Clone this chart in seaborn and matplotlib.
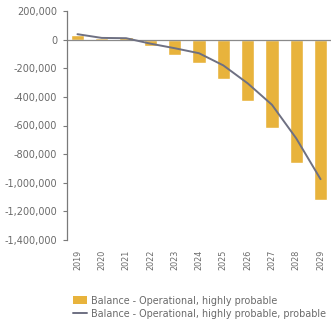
import matplotlib
matplotlib.use("Agg")
import matplotlib.pyplot as plt
from matplotlib.ticker import FuncFormatter
from matplotlib.patches import Patch
from matplotlib.lines import Line2D
import pandas as pd
import seaborn as sns

years = [2019, 2020, 2021, 2022, 2023, 2024, 2025, 2026, 2027, 2028, 2029]
balance_highly_probable = [30000, 8000, 15000, -45000, -105000, -160000,
                           -275000, -427000, -620000, -865000, -1120000]
balance_probable = [38000, 12000, 10000, -28000, -60000, -95000,
                    -180000, -305000, -455000, -690000, -975000]
y_ticks = [200000, 0, -200000, -400000, -600000, -800000,
           -1000000, -1200000, -1400000]

bar_label = "Balance - Operational, highly probable"
line_label = "Balance - Operational, highly probable, probable"

bar_color = "#E8B33C"
line_color = "#6E7082"
text_color = "#6a6a6a"

sns.set_style("white")
plt.rcParams["font.family"] = ["DejaVu Sans"]

df = pd.DataFrame({"year": years,
                   "hp": balance_highly_probable,
                   "p": balance_probable})

fig = plt.figure(figsize=(3.31, 3.28), dpi=100)
ax = fig.add_axes([67 / 331, 88 / 328, 264 / 331, 229 / 328])

sns.barplot(data=df, x="year", y="hp", native_scale=True, width=0.55,
            color=bar_color, saturation=1, ax=ax, zorder=2)
sns.lineplot(data=df, x="year", y="p", color=line_color, linewidth=1.4,
             ax=ax, zorder=3)
ax.axhline(0, color="#8a8a8a", linewidth=0.9, zorder=2.5)

ax.set_xlim(years[0] - 0.43, years[-1] + 0.43)
ax.set_ylim(y_ticks[-1], y_ticks[0])
ax.set_yticks(y_ticks)
ax.yaxis.set_major_formatter(FuncFormatter(lambda v, _: f"{v:,.0f}"))
ax.set_xticks(years)
ax.set_xticklabels([str(y) for y in years], rotation=90)

ax.set_xlabel("")
ax.set_ylabel("")
for side in ("top", "right", "bottom"):
    ax.spines[side].set_visible(False)
ax.spines["left"].set_color("#7a7a7a")
ax.spines["left"].set_linewidth(0.9)

ax.tick_params(axis="y", which="major", left=True, length=3, width=0.8,
               color="#7a7a7a", labelsize=7, labelcolor=text_color, pad=4)
ax.tick_params(axis="x", which="major", bottom=False, length=0,
               labelsize=5.8, labelcolor=text_color, pad=7)

handles = [Patch(facecolor=bar_color, edgecolor="none", label=bar_label),
           Line2D([0], [0], color=line_color, linewidth=1.4, label=line_label)]
fig.legend(handles=handles, loc="upper left",
           bbox_to_anchor=(66 / 331, 1 - 289 / 328),
           frameon=False, fontsize=6.9, labelcolor=text_color,
           handlelength=1.5, handleheight=0.9, handletextpad=0.45,
           labelspacing=0.3, borderpad=0.2)

fig.savefig("out.png", dpi=100)
